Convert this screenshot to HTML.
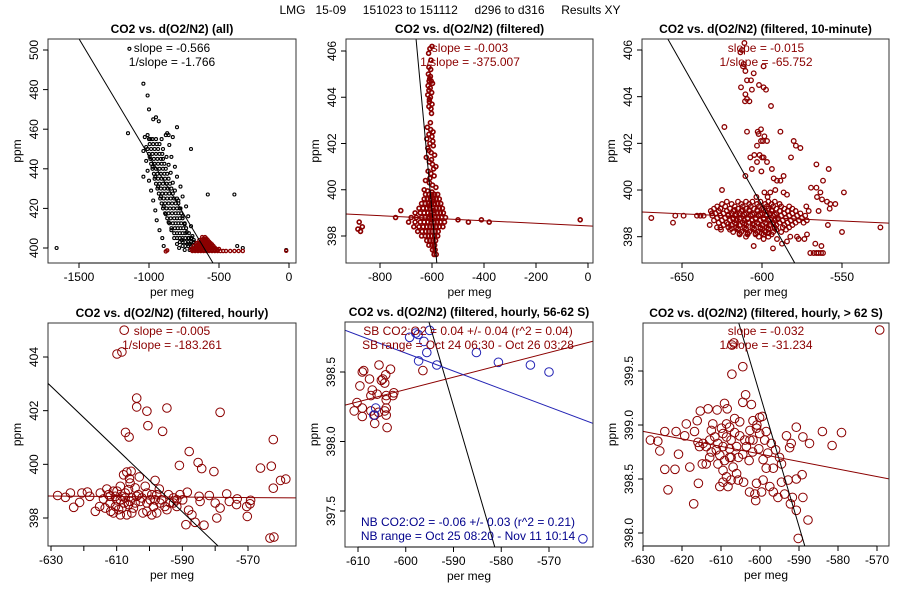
<!DOCTYPE html>
<html><head><meta charset="utf-8"><style>
html,body{margin:0;padding:0;background:#fff;width:900px;height:600px;overflow:hidden;}
svg{display:block;font-family:"Liberation Sans",sans-serif;}
</style></head><body>
<svg id="chart" width="900" height="600" viewBox="0 0 900 600" xmlns="http://www.w3.org/2000/svg"></svg>
<script>
// ---------- data (per meg, ppm) ----------
const p1BlackX=[-1040,-1010,-1000,-970,-950,-930,-800,-1150,-1010,-990,-880,-860,-830,-700,-580,-390,-1660,-20,-1040,-330,-370,-1140,
-1000,-975,-950,-1010,-985,-960,-935,-990,-965,-940,-915,-900,-975,-950,-925,-900,-880,-960,-935,-910,-885,-860,-940,-915,-890,-865,-840,-920,-895,-870,-845,-820,-800,-900,-875,-850,-825,-800,-780,-870,-845,-820,-800,-780,-760,-840,-815,-795,-775,-755,-735,-800,-780,-760,-740,-720,-700,-760,-740,-720,-700,-680,-660,
-995,-970,-945,-925,-1000,-975,-950,-925,-905,-985,-960,-935,-910,-890,-965,-940,-915,-890,-870,-950,-925,-900,-875,-850,-930,-905,-880,-855,-830,-910,-885,-860,-835,-810,-790,-885,-860,-835,-810,-790,-770,-855,-830,-810,-790,-770,-745,-820,-800,-780,-760,-740,-715,-780,-760,-740,-720,-700,-680,
-1030,-1040,-1020,-1010,-1000,-985,-970,-955,-945,-925,-905,-895,-870,-855,-840,-815,-800,-775,-760,-735,-720,-700,-690,-670,
-910,-900,-875,-860,-845,-830,-815,-790,-775,-760,-745,-730,-715,-705,-690,-680,-665,-655,-645,-640,
-1020,-995,-975,-955,-935,-915,-895,-880,-860,-840,-820,-800,-785,-765,-745,-725,-710,-695,-680];
const p1BlackY=[483,477,470,465,466,464,461,458,457,455,457,457,456,450,427,427,400,399,436,400,401,500.6,
455,455,455,450,450,450,450,445,445,445,445,445,440,440,440,440,440,435,435,435,435,435,430,430,430,430,430,425,425,425,425,425,425,420,420,420,420,420,420,415,415,415,415,415,415,410,410,410,410,410,410,405,405,405,405,405,405,401,401,401,401,401,401,
452.5,452.5,452.5,452.5,447.5,447.5,447.5,447.5,447.5,442.5,442.5,442.5,442.5,442.5,437.5,437.5,437.5,437.5,437.5,432.5,432.5,432.5,432.5,432.5,427.5,427.5,427.5,427.5,427.5,422.5,422.5,422.5,422.5,422.5,422.5,417.5,417.5,417.5,417.5,417.5,417.5,412.5,412.5,412.5,412.5,412.5,412.5,407.5,407.5,407.5,407.5,407.5,407.5,403,403,403,403,403,403,
456,449,444,439,434,429,424,419,414,409,405,401,458,452,446,441,436,431,426,421,416,411,406,402,
455,450,446,442,438,433,429,424,420,416,412,408,405,402,400,404,401,399,402,399,
451,446,441,436,431,426,421,417,413,409,405,402,400,404,399,402,399,405,399];
const p1RedX=[-620,-600,-640,-620,-600,-580,-660,-640,-620,-600,-580,-560,-680,-660,-640,-620,-600,-580,-560,-540,-700,-680,-660,-640,-620,-600,-580,-560,-540,-520,-500,-690,-670,-650,-630,-610,-590,-570,-550,-530,-510,-490,-470,-450,-420,-390,-360,-330,-880,-870,-20,
-610,-590,-630,-610,-590,-570,-650,-630,-610,-590,-570,-550,-670,-650,-630,-610,-590,-570,-550,-530,-690,-670,-650,-630,-610,-590,-570,-550,-530,-510];
const p1RedY=[405.5,405.5,404,404,404,404,402.5,402.5,402.5,402.5,402.5,402.5,401,401,401,401,401,401,401,401,399.5,399.5,399.5,399.5,399.5,399.5,399.5,399.5,399.5,399.5,399.5,398.5,398.5,398.5,398.5,398.5,398.5,398.5,398.5,398.5,398.5,398.5,398.5,398.5,398.5,398.5,398.5,398.5,398.3,398.8,398.6,
404.8,404.8,403.2,403.2,403.2,403.2,401.8,401.8,401.8,401.8,401.8,401.8,400.2,400.2,400.2,400.2,400.2,400.2,400.2,400.2,399,399,399,399,399,399,399,399,399,399];

const p2X=[-608,-600,-613,-612,-605,-614,-606,-611,-603,-615,-607,-612,-601,-616,-606,-610,-600,-612,-604,
-618,-605,-596,-612,-600,-620,-608,-595,-616,-603,-590,-622,-610,-598,-585,-615,-604,-592,-625,-610,-598,-585,-630,-617,
-625,-612,-600,-590,-578,-630,-618,-606,-595,-584,-572,-640,-626,-614,-602,-590,-578,-566,-650,-634,-620,-608,-596,-584,-572,-560,
-665,-645,-630,-616,-604,-592,-580,-568,-556,-680,-660,-640,-626,-612,-600,-588,-576,-564,-548,-690,-665,-645,-630,-616,-604,-592,-580,-568,-552,
-670,-650,-634,-620,-608,-596,-584,-572,-558,-655,-638,-624,-612,-600,-588,-576,-640,-626,-614,-602,-590,-578,-620,-608,-596,-586,-612,-600,-590,-598,-588,-592,-584,
-880,-875,-868,-885,-30,-500,-460,-410,-380,-740,-720,
-604,-609,-598,-610,-602,-606,-597,-612,-602,-594,-608,-600,-604,-596,-611,-593,-606,-600];
const p2Y=[406.1,406.2,405.9,405.3,405.2,405.0,404.9,404.7,404.7,404.5,404.4,404.3,404.2,404.1,404.0,403.8,403.7,403.6,403.5,
402.7,402.6,402.5,402.4,402.3,402.2,402.0,401.9,401.8,401.6,401.5,401.4,401.2,401.1,401.0,400.8,400.7,400.6,400.4,400.3,400.2,400.1,400.0,399.95,
399.8,399.8,399.8,399.8,399.8,399.6,399.6,399.6,399.6,399.6,399.6,399.4,399.4,399.4,399.4,399.4,399.4,399.4,399.2,399.2,399.2,399.2,399.2,399.2,399.2,399.2,
399.0,399.0,399.0,399.0,399.0,399.0,399.0,399.0,399.0,398.8,398.8,398.8,398.8,398.8,398.8,398.8,398.8,398.8,398.8,398.6,398.6,398.6,398.6,398.6,398.6,398.6,398.6,398.6,398.6,
398.4,398.4,398.4,398.4,398.4,398.4,398.4,398.4,398.4,398.2,398.2,398.2,398.2,398.2,398.2,398.2,398.0,398.0,398.0,398.0,398.0,398.0,397.8,397.8,397.8,397.8,397.6,397.6,397.6,397.4,397.4,397.2,397.2,
398.6,398.2,398.4,398.3,398.7,398.7,398.6,398.7,398.6,398.8,399.1,
405.6,404.8,404.6,403.9,403.3,402.9,402.1,401.7,401.3,400.9,400.5,399.9,399.7,399.5,399.3,399.1,398.9,398.7];

const p3X=[-612.5,-611,-613.5,-611.5,-610.4,-611.9,-605.2,-609.4,-606.9,-606.3,-613.1,-610.4,-609.4,-607.9,-610.6,-599,-599,-597.5,-601.9,-594.4,-623.5,-609.4,-602.7,-600.6,-602.1,-599.4,-598.5,-596.9,-600.6,-603.1,-588.5,-580.2,-578.8,-576,-581.9,-607.3,-604.8,-601.5,-600,-599,-603.1,-596.9,-606.3,-600.4,-610.4,-593.8,-592.7,-590.6,-588.5,-586.5,-591.7,-594.8,-586.5,-584.4,-598.5,-603.5,-596.5,-625,-566,-558.3,-561.9,-566,-569.4,-563.5,-565.6,-562.5,-559.4,-557.3,-554.2,-564.6,-557.7,-572.3,-570.8,-558.8,-550,-548.8,-526,-669.2,-655.6,-654.2,-649,-640.6,-638.5,-636.5,-632.7,-631.3,-628.1,-625.6,-605.2,-593.1,-599,-590.6,-587.5,-584.4,-582.3,-578.1,-577.1,-573.5,-569.8,-567.7,-566,-564.6,-563.1,-561.9,-566.7,-562.9,-571.9,
-622,-615,-610,-606,-601,-596,-592,
-625,-619,-613,-608,-603,-598,-594,-589,
-628,-623,-617,-612,-607,-602,-597,-593,-588,-583,
-630,-626,-620,-615,-610,-605,-600,-596,-591,-586,-581,
-632,-627,-622,-618,-613,-608,-603,-598,-594,-589,-584,-579,
-629,-624,-619,-614,-610,-605,-600,-595,-591,-586,-581,-576,
-631,-626,-621,-617,-612,-607,-602,-597,-593,-588,-583,-578,-573,
-628,-623,-618,-613,-609,-604,-599,-594,-590,-585,-580,-575,
-630,-625,-620,-616,-611,-606,-601,-596,-592,-587,-582,-577,-572,
-627,-622,-617,-612,-608,-603,-598,-593,-589,-584,-579,-574,
-624,-619,-614,-610,-605,-600,-595,-591,-586,-581,
-626,-621,-616,-611,-606,-601,-597,-592,-587,-583,
-620,-615,-610,-605,-600,-596,-591,-585,
-618,-613,-608,-603,-598,-593,-588,
-614,-609,-604,-599,-594,
-610,-602,-596,
-617,-612,-608,-603,-599,-594,-621,-616,-611,-606,-601,-597,-592,-618,-614,-609,-604,-599,-595,-590,-621,-616,-611,-606,-602,-597,-593,-619,-615,-610,-605,-601,-596,-592,-614,-609,-604,-600,-596];
const p3Y=[406.0,406.3,405.9,405.4,405.1,405.3,405.0,404.7,404.7,404.3,404.4,404.1,403.9,403.8,403.8,405.3,404.4,404.3,404.5,403.6,402.7,402.5,402.5,402.6,402.4,402.1,402.3,402.1,402.1,401.9,402.5,402.1,401.9,401.8,401.4,401.4,401.5,401.5,401.4,401.4,401.2,401.2,400.9,400.8,400.6,400.9,400.5,400.4,400.4,400.6,400,399.9,399.9,399.8,399.9,399.7,399.7,400,401.1,400.9,400.4,400.1,400.1,399.9,399.7,399.6,399.5,399.4,399.4,399.1,399.2,399.3,399.1,398.5,398.2,399.9,398.4,398.8,398.6,398.9,398.9,398.9,398.9,398.9,398.5,399,398.4,398.3,397.6,397.5,397.9,397.9,397.7,397.8,398,398,397.9,397.9,397.3,397.3,397.3,397.3,397.3,397.3,397.7,397.6,398.1,
399.5,399.5,399.5,399.5,399.5,399.5,399.5,
399.4,399.4,399.4,399.4,399.4,399.4,399.4,399.4,
399.3,399.3,399.3,399.3,399.3,399.3,399.3,399.3,399.3,399.3,
399.2,399.2,399.2,399.2,399.2,399.2,399.2,399.2,399.2,399.2,399.2,
399.1,399.1,399.1,399.1,399.1,399.1,399.1,399.1,399.1,399.1,399.1,399.1,
399.0,399.0,399.0,399.0,399.0,399.0,399.0,399.0,399.0,399.0,399.0,399.0,
398.9,398.9,398.9,398.9,398.9,398.9,398.9,398.9,398.9,398.9,398.9,398.9,398.9,
398.8,398.8,398.8,398.8,398.8,398.8,398.8,398.8,398.8,398.8,398.8,398.8,
398.7,398.7,398.7,398.7,398.7,398.7,398.7,398.7,398.7,398.7,398.7,398.7,398.7,
398.6,398.6,398.6,398.6,398.6,398.6,398.6,398.6,398.6,398.6,398.6,398.6,
398.5,398.5,398.5,398.5,398.5,398.5,398.5,398.5,398.5,398.5,
398.4,398.4,398.4,398.4,398.4,398.4,398.4,398.4,398.4,398.4,
398.3,398.3,398.3,398.3,398.3,398.3,398.3,398.3,
398.2,398.2,398.2,398.2,398.2,398.2,398.2,
398.1,398.1,398.1,398.1,398.1,
398.0,398.0,398.0,
399.15,399.15,399.15,399.15,399.15,399.15,398.95,398.95,398.95,398.95,398.95,398.95,398.95,398.75,398.75,398.75,398.75,398.75,398.75,398.75,398.55,398.55,398.55,398.55,398.55,398.55,398.55,398.35,398.35,398.35,398.35,398.35,398.35,398.35,398.15,398.15,398.15,398.15,398.15];

const p4X=[-607.7,-609.9,-608.4,-603.9,-603.9,-600.8,-594.7,-578.5,-600.5,-607.3,-606.2,-596,-562.3,-587.9,-590.9,-585.2,-584.1,-580.4,-566.2,-562.9,-562.3,-560.1,-558.5,-563.3,-562.1,-606.9,-605.6,-603.1,-606.1,-598.3,-628,-625.6,-624.1,-623.1,-621.3,-620.6,-618.9,-618.2,-616.5,-615.2,-615,-614,-613,-612,-611.8,-611,-610,-609.4,-608.9,-608.4,-607.7,-606.9,-606.4,-605.4,-604.9,-604.4,-603.4,-602.8,-602,-601.3,-600.8,-599.8,-598.8,-597.8,-597,-596.3,-595.3,-594.2,-593.7,-592.7,-591.7,-590.7,-589.9,-588.5,-588.1,-587.1,-588.9,-586.1,-583.4,-584.9,-584.6,-581.8,-580,-579.5,-578.5,-576.5,-575.7,-573.3,-573.5,-570.4,-570.2,-569.2,-569.4,
-612,-610.4,-608.9,-607.4,-605.9,-604.4,-610.4,-608.4,-606.4,-603.9,-602.3,-600.8,-599.3,-598.3,-607.4,-609.9,-612.5,-611,-605.4,-600.8,-597.8,-594.7,-596.8,-605.9,-607.9,-592.7,-591.7,-599.3,-608.9,-613.5];
const p4Y=[405.0,404.11,404.19,402.47,402.14,401.98,402.1,401.94,401.44,401.19,401.02,401.23,400.92,400.48,399.96,400.07,399.84,399.73,399.86,399.93,399.11,399.4,399.45,397.25,397.29,399.71,399.74,399.53,399.47,399.4,398.84,398.77,398.93,398.4,398.58,398.93,398.97,398.81,398.25,398.43,398.93,398.71,399.08,398.56,398.25,399,398.68,398.31,399.18,398.81,398.56,398.12,399.06,398.75,398.37,399.12,398.87,398.62,398.19,399.18,398.93,398.68,398.43,398.87,399.08,398.68,398.43,398.87,398.56,398.75,398.43,398.87,398.68,398.96,398.29,398.12,397.75,397.84,397.73,398.81,398.62,398.84,398.56,398.0,398.37,398.9,398.62,398.71,398.5,398.43,398.06,398.66,398.53,
398.81,398.81,398.68,398.75,398.62,398.56,398.43,398.37,398.5,398.81,398.75,398.56,398.87,398.68,398.93,399,398.87,398.19,398.19,398.25,398.19,398.31,398.56,399.3,399.61,398.56,398.68,398.12,398.12,398.37];

const p5SbX=[-610.8,-610.2,-609.6,-609.1,-608.8,-609.1,-609.1,-607.6,-607,-607.3,-606.5,-606.5,-605.6,-605.1,-604.8,-604.4,-604.2,-606,-607.3,-604.1,-604.1,-604.1,-604.1,-603.9,-603.2,-602.7,-602.5,-605.7,-604.4,-596.4];
const p5SbY=[398.22,398.28,398.4,398.5,398.51,398.24,398.18,398.45,398.37,398.22,398.19,398.13,398.55,398.44,398.45,398.42,398.48,398.34,398.33,398.33,398.3,398.24,398.19,398.1,398.52,398.33,398.35,398.21,398.22,398.51];
const p5NbX=[-599.2,-597.9,-597.4,-595,-596.2,-595.6,-597.3,-593.5,-585.2,-580.6,-573.9,-570,-562.9,-606.3,-606.7];
const p5NbY=[398.75,398.78,398.77,398.8,398.72,398.64,398.58,398.55,398.64,398.57,398.55,398.5,397.3,398.24,398.19];

const p6X=[-569.3,-607.2,-606.7,-607.2,-604.4,-603.7,-604.4,-602.2,-609.1,-608.4,-613.3,-611,-615.3,-616.1,-618.9,-624.4,-621.5,-628.1,-626.2,-625.7,-620.9,-624.4,-621.8,-618,-615.8,-623.6,-617,-614.8,-613.8,-619.3,-615.9,-616.8,-590.7,-589,-584,-581.5,-579.1,-587.3,-592,-593.2,-592.4,-589.2,-590.7,-591.7,-589,-592.2,-590.7,-587.7,-590.2,-596,-595,-594.5,-596.6,-598.4,-599.2,-599.2,-600.9,-599.6,-601.3,-602.7,-601.1,-597.5,-596.6,-595.4,-593.7,-594.5,-592.8,-601.8,-600.9,-601.8,-600.1,-600.1,-599.4,-600.8,-602.6,-603.5,-601.9,-602.8,-604.4,-603.9,-605.2,-606,-605.2,-606.5,-607.8,-608.6,-607.4,-608.6,-609.5,-607.8,-609.5,-610.8,-611.6,-611.2,-610.3,-610.8,-609.1,-607.4,-606.9,-609.5,-608.6,-609.5,-610.3,-607.4,-606,-605.6,-604.2,-608.2,-612.5,-612.9,-613.8,-612.5,-612.9,-614.6,-615.5,-612.1,-602.6,-605.5,-597.1,-598,-600.3,-598.8,-598.4,-607.8,-606.5,-609.9];
const p6Y=[399.88,399.74,399.76,399.47,399.54,399.28,399.21,399.19,399.2,399.15,399.15,399.14,399.13,399.04,399.01,398.94,398.94,398.86,398.85,398.76,398.73,398.59,398.59,398.61,398.46,398.4,398.27,398.64,398.64,398.9,398.84,398.94,398.98,398.89,398.94,398.81,398.93,398.83,398.83,398.9,398.79,398.54,398.5,398.33,398.33,398.27,398.21,398.12,397.95,398.77,398.7,398.64,398.6,398.6,398.68,398.49,398.46,398.38,398.36,398.38,398.3,398.43,398.38,398.33,398.36,398.47,398.49,399.04,398.97,398.86,398.92,399.07,399.08,399.0,398.86,398.8,398.75,398.67,398.73,398.86,398.9,398.8,399.03,399.06,398.98,399.01,398.86,398.89,398.92,398.78,398.8,398.83,398.89,398.77,398.72,398.64,398.67,398.7,398.61,398.58,398.52,398.47,398.43,398.49,398.55,398.49,398.47,398.43,398.95,398.86,398.8,398.75,398.7,398.83,398.8,399.01,398.95,398.7,398.83,398.74,398.78,398.86,398.94,398.7,398.93,398.97];

// fitted lines: slope (ppm per per meg) and intercept
const fitSlopes=[-0.1183,-0.1213,-0.000547,-0.1210,-0.00311,-0.1170,-0.0009,-0.1174,0.00886,-0.01291,-0.1219,-0.00697];
const fitIntercepts=[328.2,326.3,398.44,326.75,396.96,329.2,398.25,328.99,403.69,390.89,326.14,394.55];

const RED='#8b0000', BLUE='#2323b4', BLK='#000';
const svg=document.getElementById('chart');
const NS='http://www.w3.org/2000/svg';
function mk(tag,attrs,parent){const e=document.createElementNS(NS,tag);for(const k in attrs)e.setAttribute(k,attrs[k]);(parent||svg).appendChild(e);return e;}
function lin(v0,p0,v1,p1){return v=>p0+(v-v0)*(p1-p0)/(v1-v0);}

const panels=[
 {key:'all',title:'CO2 vs. d(O2/N2) (all)',box:[48,39,296,263],xs:[-1500,79,0,289],ys:[500,50,400,248],xt:[-1500,-1000,-500,0],yt:[400,420,440,460,480,500],dec:0,
  series:[{x:p1BlackX,y:p1BlackY,c:BLK,r:1.5,sw:1.1,n:'all-points'},{x:p1RedX,y:p1RedY,c:RED,r:1.6,sw:1.3,n:'filtered-points'}],
  lines:[[0,BLK]],texts:[['slope = -0.566',172,52,BLK],['1/slope = -1.766',172,66,BLK]]},
 {key:'filtered',title:'CO2 vs. d(O2/N2) (filtered)',box:[346,39,593,263],xs:[-800,380,-600,432],ys:[406,51,398,236],xt:[-800,-600,-400,-200,0],yt:[398,400,402,404,406],dec:0,
  series:[{x:p2X,y:p2Y,c:RED,r:2,sw:1.6,n:'filtered-points'}],
  lines:[[1,BLK],[2,RED]],texts:[['slope = -0.003',470,52,RED],['1/slope = -375.007',470,66,RED]]},
 {key:'10min',title:'CO2 vs. d(O2/N2) (filtered, 10-minute)',box:[642,39,889,263],xs:[-650,682,-550,842],ys:[406,50,398,236.7],xt:[-650,-600,-550],yt:[398,400,402,404,406],dec:0,
  series:[{x:p3X,y:p3Y,c:RED,r:2.3,sw:1.3,n:'ten-minute-points'}],
  lines:[[3,BLK],[4,RED]],texts:[['slope = -0.015',766,52,RED],['1/slope = -65.752',766,66,RED]]},
 {key:'hourly',title:'CO2 vs. d(O2/N2) (filtered, hourly)',box:[48,323,296,546],xs:[-630,51,-570,248],ys:[404,357,398,518],xt:[-630,-620,-610,-600,-590,-580,-570],ytl:[-630,-610,-590,-570],yt:[398,400,402,404],dec:0,
  series:[{x:p4X,y:p4Y,c:RED,r:4.3,sw:1,n:'hourly-points'}],
  lines:[[5,BLK],[6,RED]],texts:[['slope = -0.005',172,335,RED],['1/slope = -183.261',172,349,RED]]},
 {key:'56-62S',title:'CO2 vs. d(O2/N2) (filtered, hourly, 56-62 S)',box:[345,322,593,547],xs:[-610,358,-570,549],ys:[398.5,372,397.5,511],xt:[-610,-600,-590,-580,-570],yt:[397.5,398.0,398.5],dec:1,
  series:[{x:p5SbX,y:p5SbY,c:RED,r:4.3,sw:1,n:'southbound-points'},{x:p5NbX,y:p5NbY,c:BLUE,r:4.3,sw:1,n:'northbound-points'}],
  lines:[[7,BLK],[8,RED],[9,BLUE]],texts:[['SB CO2:O2 = 0.04 +/- 0.04 (r^2 = 0.04)',468,335,RED],['SB range = Oct 24 06:30 - Oct 26 03:28',468,349,RED],['NB CO2:O2 = -0.06 +/- 0.03 (r^2 = 0.21)',468,526,'#00008b'],['NB range = Oct 25 08:20 - Nov 11 10:14',468,540,'#00008b']]},
 {key:'gt62S',title:'CO2 vs. d(O2/N2) (filtered, hourly, > 62 S)',box:[643,323,889,546],xs:[-630,643,-570,877],ys:[399.5,371,398.0,533],xt:[-630,-620,-610,-600,-590,-580,-570],yt:[398.0,398.5,399.0,399.5],dec:1,
  series:[{x:p6X,y:p6Y,c:RED,r:4.3,sw:1,n:'hourly-points'}],
  lines:[[10,BLK],[11,RED]],texts:[['slope = -0.032',766,335,RED],['1/slope = -31.234',766,349,RED]]}
];

const mt=mk('text',{x:450,y:14,'text-anchor':'middle','font-size':12,fill:'#000',style:'white-space:pre'});


mt.textContent='LMG   15-09     151023 to 151112     d296 to d316     Results XY';

panels.forEach((p,i)=>{
 const [L,T,R,B]=p.box;
 const sx=lin(...p.xs), sy=lin(...p.ys);
 const g=mk('g',{});
 
 
 const cp=mk('clipPath',{id:'clip'+i},g);
 mk('rect',{x:L,y:T,width:R-L,height:B-T},cp);
 const t=mk('text',{x:(L+R)/2,y:T-6,'text-anchor':'middle','font-size':12,'font-weight':'bold',fill:'#000'},g);
 
 
 t.textContent=p.title;
 const plot=mk('g',{'clip-path':'url(#clip'+i+')'},g);
 
 
 p.series.forEach(s=>{
  const sg=mk('g',{fill:'none',stroke:s.c,'stroke-width':s.sw},plot);
  
  
  for(let k=0;k<s.x.length;k++){
   const c=mk('circle',{cx:sx(s.x[k]).toFixed(1),cy:sy(s.y[k]).toFixed(1),r:s.r},sg);
   
   
  }
 });
 p.lines.forEach(([li,col])=>{
  const m=fitSlopes[li], b=fitIntercepts[li];
  const x0=p.xs[0]+(L-p.xs[1])*(p.xs[2]-p.xs[0])/(p.xs[3]-p.xs[1]);
  const x1=p.xs[0]+(R-p.xs[1])*(p.xs[2]-p.xs[0])/(p.xs[3]-p.xs[1]);
  const ln=mk('line',{x1:sx(x0),y1:sy(m*x0+b),x2:sx(x1),y2:sy(m*x1+b),stroke:col,'stroke-width':1},plot);
  
  
 });
 p.texts.forEach(([s,x,y,c])=>{
  const tx=mk('text',{x:x,y:y,'text-anchor':'middle','font-size':12,fill:c},g);
  
  
  tx.textContent=s;
 });
 const box=mk('rect',{x:L,y:T,width:R-L,height:B-T,fill:'none',stroke:'#333','stroke-width':1},g);
 
 
 const xa=mk('g',{stroke:'#000','stroke-width':1},g);
 
 
 mk('line',{x1:sx(p.xt[0]),y1:B,x2:sx(p.xt[p.xt.length-1]),y2:B},xa);
 const xl=p.ytl||p.xt;
 p.xt.forEach(v=>{
  mk('line',{x1:sx(v),y1:B,x2:sx(v),y2:B+5},xa);
  if(xl.indexOf(v)<0)return;
  const tl=mk('text',{x:sx(v),y:B+18,'text-anchor':'middle','font-size':12,fill:'#000',stroke:'none'},g);
  
  
  tl.textContent=String(v);
 });
 const xt=mk('text',{x:(L+R)/2,y:B+33,'text-anchor':'middle','font-size':12,fill:'#000'},g);
 
 
 xt.textContent='per meg';
 const ya=mk('g',{stroke:'#000','stroke-width':1},g);
 
 
 mk('line',{x1:L,y1:sy(p.yt[0]),x2:L,y2:sy(p.yt[p.yt.length-1])},ya);
 p.yt.forEach(v=>{
  const y=sy(v);
  mk('line',{x1:L-5,y1:y,x2:L,y2:y},ya);
  const tl=mk('text',{x:L-10,y:y,'text-anchor':'middle','font-size':12,fill:'#000',transform:`rotate(-90 ${L-10} ${y})`},g);
  
  
  tl.textContent=v.toFixed(p.dec);
 });
 const yt=mk('text',{x:L-27,y:(T+B)/2,'text-anchor':'middle','font-size':12,fill:'#000',transform:`rotate(-90 ${L-27} ${(T+B)/2})`},g);
 
 
 yt.textContent='ppm';
});
</script>
</body></html>
